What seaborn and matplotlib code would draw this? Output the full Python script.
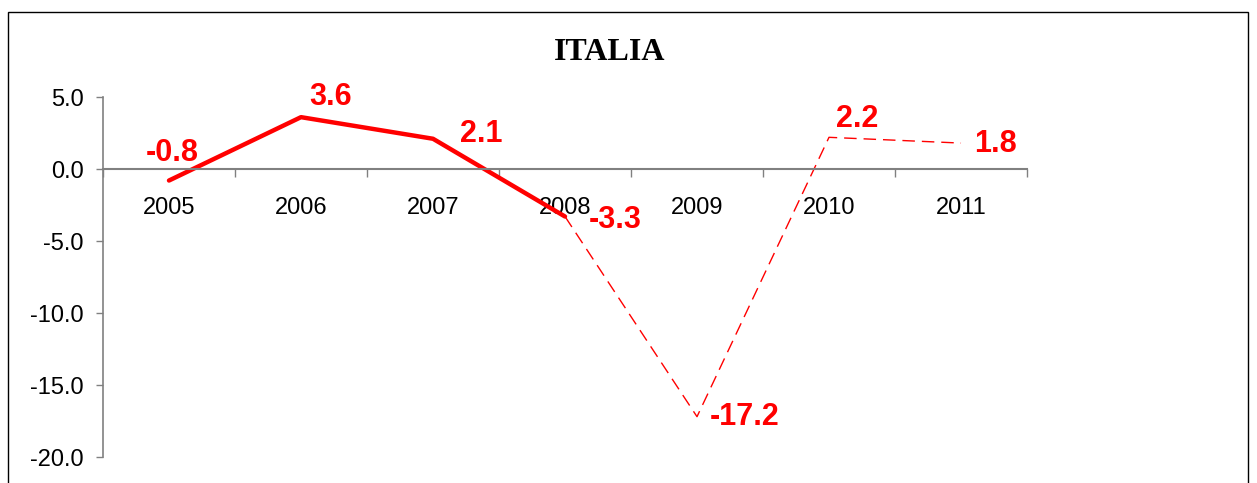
import numpy as np
import pandas as pd
import matplotlib
matplotlib.use("Agg")
import matplotlib.pyplot as plt
import matplotlib.patches as mpatches
from matplotlib.ticker import FixedLocator, FormatStrFormatter
import seaborn as sns

# data
years = ["2005", "2006", "2007", "2008", "2009", "2010", "2011"]
values = [-0.8, 3.6, 2.1, -3.3, -17.2, 2.2, 1.8]
n_actual = 4  # 2005-2008 solid, 2008-2011 dashed (estimates)

df = pd.DataFrame({"year": years, "value": values})
df["pos"] = np.arange(len(df))
actual = df.iloc[:n_actual]
forecast = df.iloc[n_actual - 1:]

sns.set_theme(style="white")
plt.rcParams["font.family"] = ["Liberation Sans", "DejaVu Sans"]

fig = plt.figure(figsize=(12.57, 4.83), dpi=100)
ax = fig.add_axes([103 / 1257, 1 - 457 / 483, (1027 - 103) / 1257, (457 - 97) / 483])

# outer frame (bottom edge runs off the picture)
fig.patches.append(mpatches.Rectangle((8 / 1257, -0.05), (1248 - 8) / 1257, 1.05 - 12 / 483,
                                      transform=fig.transFigure, fill=False,
                                      edgecolor="black", linewidth=1.0))

sns.lineplot(data=actual, x="pos", y="value", ax=ax, color="#ff0000", linewidth=3.2)
sns.lineplot(data=forecast, x="pos", y="value", ax=ax, color="#ff0000", linewidth=1.0,
             linestyle=(0, (9, 5)))

ax.set_xlim(-0.5, len(years) - 0.5)
ax.set_ylim(-20, 5)
ax.set_xlabel("")
ax.set_ylabel("")

# spines
for s in ["top", "right"]:
    ax.spines[s].set_visible(False)
ax.spines["left"].set_color("#808080")
ax.spines["bottom"].set_color("#808080")
ax.spines["bottom"].set_position(("data", 0))
ax.spines["left"].set_linewidth(1.2)
ax.spines["bottom"].set_linewidth(1.5)

ax.set_yticks([5, 0, -5, -10, -15, -20])
ax.yaxis.set_major_formatter(FormatStrFormatter("%.1f"))
ax.tick_params(axis="y", direction="out", length=5, width=1, color="#808080",
               labelsize=17, labelcolor="black", left=True, pad=9)

ax.set_xticks(df["pos"])
ax.set_xticklabels(years)
ax.xaxis.set_minor_locator(FixedLocator(np.arange(-0.5, len(years), 1)))
ax.tick_params(axis="x", which="major", length=0, labelsize=17, labelcolor="black", pad=20)
ax.tick_params(axis="x", which="minor", direction="out", length=6, width=1,
               color="#808080", bottom=True)

# data labels (offsets in pixels from each point)
offsets = [(3, 28), (30, 20), (48, 5), (50, -3), (48, 0), (28, 18), (35, -1)]
for (_, row), (dx, dy) in zip(df.iterrows(), offsets):
    ax.annotate(f"{row['value']:.1f}", (row["pos"], row["value"]), xytext=(dx, dy),
                textcoords="offset pixels", ha="center", va="center",
                fontsize=22, fontweight="bold", color="#ff0000")

fig.text(610 / 1257, 1 - 53 / 483, "ITALIA", ha="center", va="center", color="black",
         fontsize=23, fontweight="bold", family=["Liberation Serif", "DejaVu Serif"])

fig.savefig("out.png", dpi=100)
